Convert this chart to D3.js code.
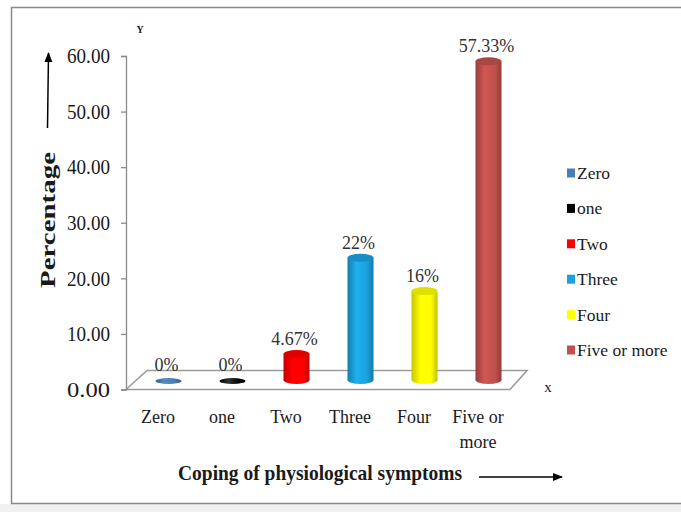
<!DOCTYPE html>
<html>
<head>
<meta charset="utf-8">
<script src="https://cdn.jsdelivr.net/npm/d3@7"></script>
<style>
  html, body { margin: 0; padding: 0; background: #ffffff; }
  svg { display: block; }
  svg text { font-family: "Liberation Serif", serif !important; }
</style>
</head>
<body>
<svg id="chart" width="681" height="512" font-family="Liberation Serif"></svg>
<script>
// Coping of physiological symptoms (percentage of respondents)
const categories = ["Zero", "one", "Two", "Three", "Four", "Five or more"];
const values = [0, 0, 4.67, 22, 16, 57.33];
const valueLabels = ["0%", "0%", "4.67%", "22%", "16%", "57.33%"];
const colors = ["#4a7db4", "#000000", "#ff0000", "#1ba1dc", "#ffff00", "#c0504d"];
const yTicks = [0, 10, 20, 30, 40, 50, 60];

const FONT = "Liberation Serif";
const svg = d3.select("#chart");

function addText(parent, x, y, str, size, opts = {}) {
  const t = parent.append("text")
    .attr("x", x).attr("y", y)
    .attr("font-family", FONT)
    .attr("font-size", size)
    .attr("fill", opts.fill || "#1a1a1a")
    .attr("text-anchor", opts.anchor || "start")
    .text(str);
  if (opts.bold) t.attr("font-weight", "bold");
  if (opts.length) t.attr("textLength", opts.length).attr("lengthAdjust", "spacingAndGlyphs");
  if (opts.transform) t.attr("transform", opts.transform);
  return t;
}

// page frame
svg.append("rect").attr("x", 0).attr("y", 504).attr("width", 681).attr("height", 8).attr("fill", "#f1f1f1");
svg.append("rect")
  .attr("x", 11.5).attr("y", 7.5).attr("width", 680).attr("height", 496)
  .attr("fill", "#ffffff").attr("stroke", "#8a8a8a").attr("stroke-width", 1.5);

// scales
const x = d3.scaleBand().domain(categories).range([126, 510]).padding(0);
const y = d3.scaleLinear().domain([0, 60]).range([389.5, 56]);
const depthX = 21, depthY = -19;
const barW = 26, ry = 4;

// gradients for cylinder shading
const defs = svg.append("defs");
colors.forEach((c, i) => {
  const base = d3.color(c);
  const g = defs.append("linearGradient").attr("id", "cyl" + i)
    .attr("x1", "0%").attr("x2", "100%").attr("y1", "0%").attr("y2", "0%");
  g.append("stop").attr("offset", "0%").attr("stop-color", base.darker(0.7));
  g.append("stop").attr("offset", "35%").attr("stop-color", i === 1 ? "#333" : base.brighter(0.25));
  g.append("stop").attr("offset", "75%").attr("stop-color", c);
  g.append("stop").attr("offset", "100%").attr("stop-color", base.darker(0.8));
});

// floor (3D base plane)
const y0 = y(0);
const xL = x.range()[0], xR = x.range()[1];
svg.append("path")
  .attr("d", `M${xL},${y0} L${xL + depthX},${y0 + depthY} L${xR + 17},${y0 + depthY} L${xR},${y0} Z`)
  .attr("fill", "none").attr("stroke", "#9a9a9a").attr("stroke-width", 1.6);

// y axis
const yAxis = svg.append("g").attr("transform", `translate(${xL},0)`)
  .call(d3.axisLeft(y).tickValues(yTicks).tickFormat(d => d.toFixed(2)).tickSize(5).tickPadding(11));
yAxis.attr("font-family", FONT);
yAxis.select(".domain").attr("stroke", "#8a8a8a").attr("stroke-width", 1.3);
yAxis.selectAll(".tick line").attr("stroke", "#8a8a8a").attr("stroke-width", 1.3);
yAxis.selectAll(".tick text")
  .attr("font-family", FONT).attr("font-size", 21).attr("fill", "#1a1a1a")
  .attr("textLength", 43).attr("lengthAdjust", "spacingAndGlyphs");

// bars as cylinders
const barG = svg.append("g");
categories.forEach((cat, i) => {
  const cx = x(cat) + x.bandwidth() / 2 + depthX / 2;
  const yb = y(0) + depthY / 2;
  const yt = y(values[i]) + depthY / 2;
  const g = barG.append("g");
  if (values[i] > 0) {
    g.append("ellipse").attr("cx", cx).attr("cy", yb).attr("rx", barW / 2).attr("ry", ry)
      .attr("fill", `url(#cyl${i})`);
    g.append("rect").attr("x", cx - barW / 2).attr("y", yt).attr("width", barW).attr("height", yb - yt)
      .attr("fill", `url(#cyl${i})`);
    g.append("ellipse").attr("cx", cx).attr("cy", yt).attr("rx", barW / 2).attr("ry", ry)
      .attr("fill", d3.color(colors[i]).darker(0.35));
  } else {
    g.append("ellipse").attr("cx", cx).attr("cy", yb + 1).attr("rx", barW / 2).attr("ry", 3)
      .attr("fill", `url(#cyl${i})`);
  }
  // value label
  addText(svg, cx - 2, yt - 9, valueLabels[i], 18, { anchor: "middle", fill: "#333" });
});

// category labels
categories.forEach(cat => {
  const cx = x(cat) + x.bandwidth() / 2;
  const lines = cat === "Five or more" ? ["Five or", "more"] : [cat];
  lines.forEach((ln, k) => addText(svg, cx, 423 + k * 25, ln, 18, { anchor: "middle" }));
});

// axis titles and arrows
addText(svg, 0, 0, "Percentage", 20, {
  anchor: "middle", bold: true, length: 136, transform: "translate(55,220) rotate(-90)"
});

defs.append("marker").attr("id", "arrowHead").attr("viewBox", "0 0 10 10")
  .attr("refX", 9).attr("refY", 5).attr("markerWidth", 10).attr("markerHeight", 10)
  .attr("markerUnits", "userSpaceOnUse").attr("orient", "auto")
  .append("path").attr("d", "M0,1 L10,5 L0,9 Z").attr("fill", "#000");

svg.append("line").attr("x1", 47.5).attr("y1", 128).attr("x2", 48.5).attr("y2", 53)
  .attr("stroke", "#000").attr("stroke-width", 1.5).attr("marker-end", "url(#arrowHead)");

addText(svg, 178, 480, "Coping of physiological symptoms", 21, { bold: true, length: 284 });

svg.append("line").attr("x1", 479).attr("y1", 477).attr("x2", 562).attr("y2", 477)
  .attr("stroke", "#000").attr("stroke-width", 1.5).attr("marker-end", "url(#arrowHead)");

addText(svg, 140, 33, "Y", 10, { anchor: "middle", bold: true });
addText(svg, 548, 392, "x", 15, { anchor: "middle" });

// legend
const legend = svg.append("g");
categories.forEach((cat, i) => {
  const cy = 173 + i * 35.4;
  legend.append("rect").attr("x", 567).attr("y", cy - 4.5).attr("width", 8).attr("height", 9)
    .attr("fill", colors[i]);
  addText(legend, 577, cy + 6, cat, 17.5);
});
</script>
</body>
</html>
